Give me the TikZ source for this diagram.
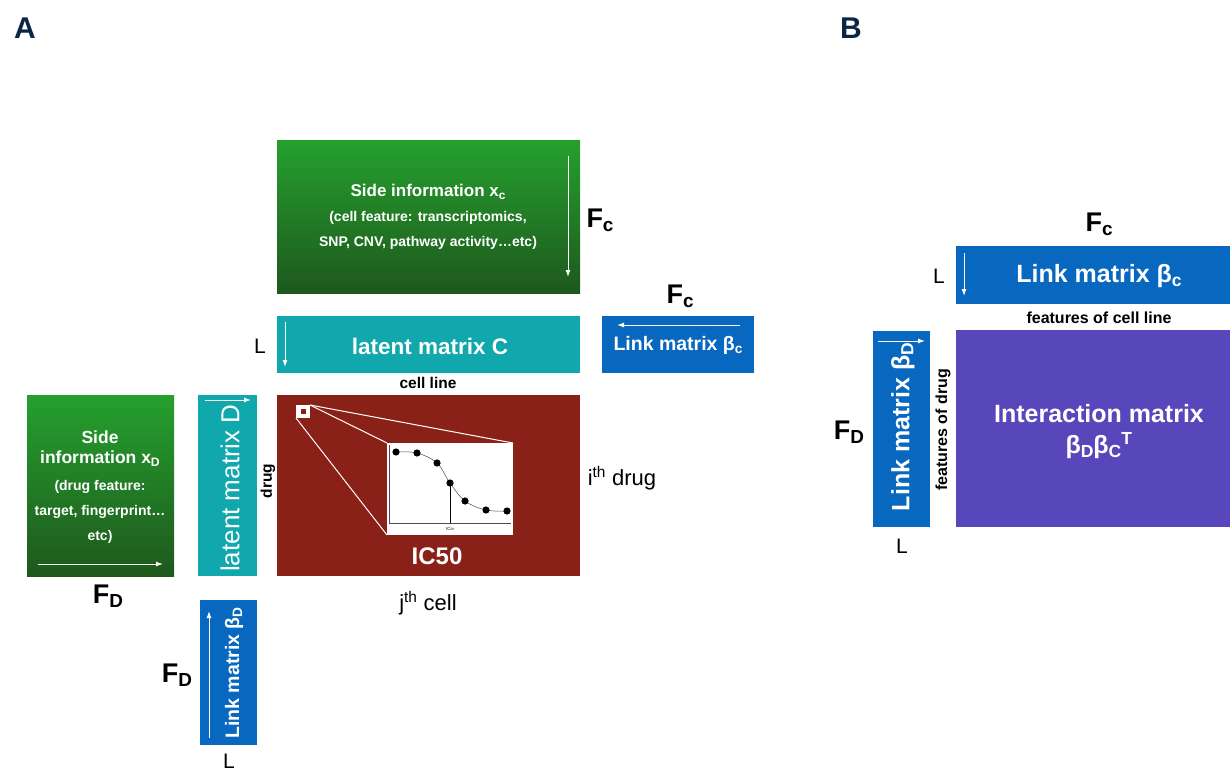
\documentclass[tikz,border=0pt]{standalone}
\usepackage{fontspec}
\usepackage{graphicx}
\setmainfont{Liberation Sans}
\usetikzlibrary{arrows.meta}
\newcommand{\lowsub}[1]{\raisebox{-0.3ex}{\scalebox{0.7}{#1}}}
\newcommand{\fsz}[1]{\fontsize{#1}{#1}\selectfont}
\definecolor{gtop}{HTML}{25A02E}
\definecolor{gbot}{HTML}{1E581D}
\definecolor{tealm}{HTML}{10A8AC}
\definecolor{bluem}{HTML}{0868C0}
\definecolor{redm}{HTML}{8A2119}
\definecolor{purm}{HTML}{5747BB}
\definecolor{navy}{HTML}{0B2545}
\begin{document}
\begin{tikzpicture}[x=1pt,y=-1pt,
  mat/.style={rectangle, anchor=north west, inner sep=0pt, outer sep=0pt},
  wt/.style={text=white, inner sep=0pt},
  warr/.style={white, line width=1pt, -{Latex[length=7pt,width=5pt]}},
  flab/.style={font=\bfseries\fsz{27}, inner sep=0pt},
  llab/.style={font=\fsz{21}, inner sep=0pt},
  small/.style={font=\bfseries\fsz{15.5}, inner sep=0pt}]
\useasboundingbox (0,0) rectangle (1230,773);

% panel letters
\node[font=\bfseries\fsz{30}, text=navy] (pA) at (25,28) {A};
\node[font=\bfseries\fsz{30}, text=navy] (pB) at (851,28) {B};

% ---------------- Panel A ----------------
% side info C
\node[mat, minimum width=303pt, minimum height=153pt, top color=gtop, bottom color=gbot] (sideC) at (277,140) {};
\node[wt, font=\bfseries\fsz{17}] (sc1) at (428,192) {Side information x\lowsub{c}};
\node[wt, font=\bfseries\fsz{14}] (sc2) at (428,218) {(cell feature: transcriptomics,};
\node[wt, font=\bfseries\fsz{14}] (sc3) at (428,243) {SNP, CNV, pathway activity…etc)};
\coordinate (scA) at (568,156);
\coordinate (scB) at (568,277);
\draw[warr] (scA) -- (scB);
\node[flab] (fc1) at (600,220) {F\lowsub{c}};

% latent C
\node[mat, minimum width=303pt, minimum height=57pt, fill=tealm] (latC) at (277,316) {};
\node[wt, font=\bfseries\fsz{22.5}] (latCt) at (430,346) {latent matrix C};
\coordinate (lcA) at (285,322);
\coordinate (lcB) at (285,367);
\draw[warr] (lcA) -- (lcB);
\node[llab] (L1) at (260,346) {L};
\node[small] (cellline) at (428,383) {cell line};

% link beta c (A)
\node[mat, minimum width=152pt, minimum height=57pt, fill=bluem] (lbc) at (602,316) {};
\node[wt, font=\bfseries\fsz{19.5}] (lbct) at (678,345) {Link matrix β\lowsub{c}};
\coordinate (lbA) at (740,325);
\coordinate (lbB) at (617,325);
\draw[warr] (lbA) -- (lbB);
\node[flab] (fc2) at (680,296) {F\lowsub{c}};

% IC50 matrix
\node[mat, minimum width=303pt, minimum height=181pt, fill=redm] (ic) at (277,395) {};
\node[mat, minimum width=126pt, minimum height=92pt, fill=white] (inset) at (387,443) {};
\node[mat, minimum width=14pt, minimum height=13pt, fill=white] (sq) at (296,405) {};
\node[mat, minimum width=5pt, minimum height=5pt, fill=redm] (sqi) at (300.5,409) {};
\draw[white, line width=1pt] (sq.north east) -- (inset.north east);
\draw[white, line width=1pt] (sq.north east) -- (inset.north west);
\draw[white, line width=1pt] (sq.south west) -- (inset.south west);
% plot
\coordinate (ax0) at (389,523);
\coordinate (axy) at (389,445);
\coordinate (axx) at (511,523);
\draw[black!70, line width=0.6pt] (axy) -- (ax0) -- (axx);
\draw[black!70, line width=0.5pt] plot[smooth, tension=0.6] coordinates {(396,452) (417,453) (437,463) (450,483) (465,501) (486,510) (507,511)};
\foreach \p in {(396,452),(417,453),(437,463),(450,483),(465,501),(486,510),(507,511)}
  \fill[black] \p circle (3.6pt);
\coordinate (icp) at (450,483);
\coordinate (icb) at (450,523);
\draw[black, line width=0.9pt] (icp) -- (icb);
\node[font=\fsz{4.5}, inner sep=0pt] (ic50s) at (450,529) {IC\lowsub{50}};
\node[wt, font=\bfseries\fsz{24}] (ic50) at (437,556) {IC50};
\node[font=\fsz{22}, inner sep=0pt] (ith) at (622,478) {i\textsuperscript{th} drug};
\node[font=\fsz{22}, inner sep=0pt] (jth) at (428,603) {j\textsuperscript{th} cell};
\node[small, rotate=90] (drug) at (268,481) {drug};

% side info D
\node[mat, minimum width=147pt, minimum height=181pt, top color=gtop, bottom color=gbot] (sideD) at (27,395) {};
\node[wt, font=\bfseries\fsz{17.5}] (sd1) at (100,437) {Side};
\node[wt, font=\bfseries\fsz{17.5}] (sd2) at (100,459) {information x\lowsub{D}};
\node[wt, font=\bfseries\fsz{14}] (sd3) at (100,487) {(drug feature:};
\node[wt, font=\bfseries\fsz{14}] (sd4) at (100,512) {target, fingerprint…};
\node[wt, font=\bfseries\fsz{14}] (sd5) at (100,537) {etc)};
\coordinate (sdA) at (38,564);
\coordinate (sdB) at (163,564);
\draw[warr] (sdA) -- (sdB);
\node[flab] (fd1) at (108,596) {F\lowsub{D}};

% latent D
\node[mat, minimum width=59pt, minimum height=181pt, fill=tealm] (latD) at (198,395) {};
\node[wt, font=\fsz{26}, rotate=90] (latDt) at (230,488) {latent matrix D};
\coordinate (ldA) at (205,400);
\coordinate (ldB) at (251,400);
\draw[warr] (ldA) -- (ldB);

% link beta D (A)
\node[mat, minimum width=57pt, minimum height=145pt, fill=bluem] (lbd) at (200,600) {};
\node[wt, font=\bfseries\fsz{19.5}, rotate=90] (lbdt) at (234,673) {Link matrix β\lowsub{D}};
\coordinate (ldbA) at (209,738);
\coordinate (ldbB) at (209,611);
\draw[warr] (ldbA) -- (ldbB);
\node[flab] (fd2) at (177,675) {F\lowsub{D}};
\node[llab] (L2) at (229,761) {L};

% ---------------- Panel B ----------------
\node[flab] (fc3) at (1099,224) {F\lowsub{c}};
\node[mat, minimum width=274pt, minimum height=58pt, fill=bluem] (blc) at (956,246) {};
\node[wt, font=\bfseries\fsz{25}] (blct) at (1099,276) {Link matrix β\lowsub{c}};
\coordinate (bcA) at (964,253);
\coordinate (bcB) at (964,296);
\draw[warr] (bcA) -- (bcB);
\node[llab] (L3) at (939,276) {L};
\node[small, font=\bfseries\fsz{16}] (fcl) at (1099,318) {features of cell line};

\node[mat, minimum width=274pt, minimum height=197pt, fill=purm] (inter) at (956,330) {};
\node[wt, font=\bfseries\fsz{25}] (it1) at (1099,414) {Interaction matrix};
\node[wt, font=\bfseries\fsz{25}] (it2) at (1099,446) {β\lowsub{D}β\lowsub{C}\textsuperscript{T}};

\node[mat, minimum width=57pt, minimum height=196pt, fill=bluem] (bld) at (873,331) {};
\node[wt, font=\bfseries\fsz{25}, rotate=90] (bldt) at (903,427) {Link matrix β\lowsub{D}};
\coordinate (bdA) at (878,341);
\coordinate (bdB) at (925,341);
\draw[warr] (bdA) -- (bdB);
\node[small, font=\bfseries\fsz{16}, rotate=90] (fod) at (943,430) {features of drug};
\node[flab] (fd3) at (849,432) {F\lowsub{D}};
\node[llab] (L4) at (902,546) {L};
\end{tikzpicture}
\end{document}
